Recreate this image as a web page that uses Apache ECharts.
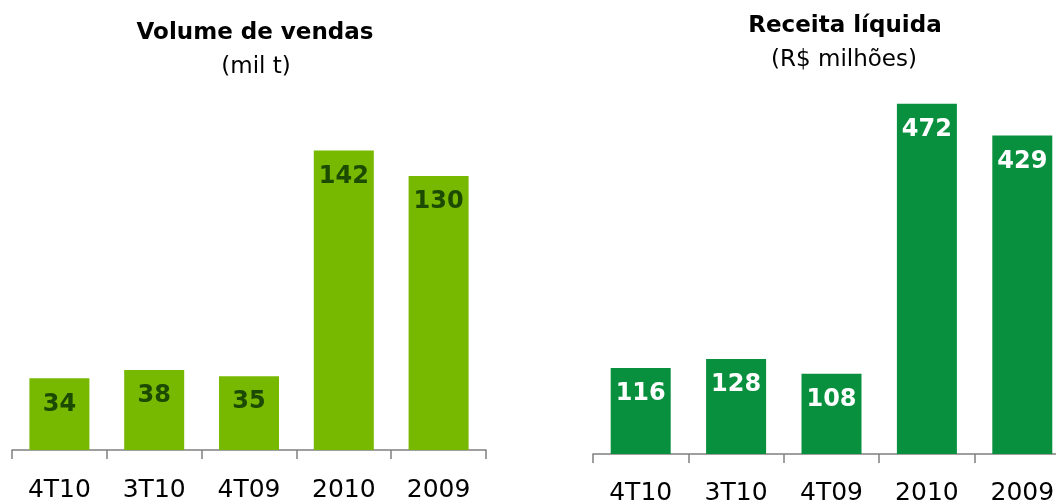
<!DOCTYPE html>
<html>
<head>
<meta charset="utf-8">
<script src="https://cdn.jsdelivr.net/npm/echarts@6/dist/echarts.min.js"></script>
<style>
  html, body { margin: 0; padding: 0; background: #fff; }
  #chart { width: 1056px; height: 500px; }
</style>
</head>
<body>
<div id="chart"></div>
<script>
const categories = ['4T10', '3T10', '4T09', '2010', '2009'];
const volumeValues = [34, 38, 35, 142, 130];
const receitaValues = [116, 128, 108, 472, 429];

const font = '"DejaVu Sans", Verdana, sans-serif';

function makeAxis(gridIndex, margin) {
    return {
        type: 'category',
        gridIndex: gridIndex,
        data: categories,
        axisLine: { lineStyle: { color: '#808080', width: 1.5 } },
        axisTick: { show: true, length: 9, lineStyle: { color: '#808080', width: 1.5 } },
        axisLabel: { color: '#000', fontSize: 25, fontFamily: font, margin: margin }
    };
}

const chart = echarts.init(document.getElementById('chart'));
chart.setOption({
    animation: false,
    title: [
        { text: 'Volume de vendas', left: 250, top: 17, textAlign: 'center',
          textStyle: { fontFamily: font, fontSize: 23, fontWeight: 'bold', color: '#000' } },
        { text: '(mil t)', left: 251, top: 51, textAlign: 'center',
          textStyle: { fontFamily: font, fontSize: 23, fontWeight: 'normal', color: '#000' } },
        { text: 'Receita líquida', left: 840, top: 10, textAlign: 'center',
          textStyle: { fontFamily: font, fontSize: 23, fontWeight: 'bold', color: '#000' } },
        { text: '(R$ milhões)', left: 839, top: 44, textAlign: 'center',
          textStyle: { fontFamily: font, fontSize: 23, fontWeight: 'normal', color: '#000' } }
    ],
    // the right axis runs past the window edge in the reference, so no outer-bounds squeezing
    grid: [
        { left: 12, width: 474, top: 100, bottom: 50, outerBoundsMode: 'none' },
        { left: 593, width: 477, top: 100, bottom: 46, outerBoundsMode: 'none' }
    ],
    xAxis: [makeAxis(0, 28), makeAxis(1, 27)],
    yAxis: [
        { type: 'value', gridIndex: 0, min: 0, max: 166, show: false, splitLine: { show: false } },
        { type: 'value', gridIndex: 1, min: 0, max: 477, show: false, splitLine: { show: false } }
    ],
    series: [
        {
            type: 'bar', xAxisIndex: 0, yAxisIndex: 0,
            data: volumeValues, barWidth: 60,
            itemStyle: { color: '#77B800' },
            label: { show: true, position: 'insideTop', distance: 14,
                     color: '#1B4A00', fontSize: 24, fontWeight: 'bold', fontFamily: font }
        },
        {
            type: 'bar', xAxisIndex: 1, yAxisIndex: 1,
            data: receitaValues, barWidth: 60,
            itemStyle: { color: '#08903E' },
            label: { show: true, position: 'insideTop', distance: 14,
                     color: '#fff', fontSize: 24, fontWeight: 'bold', fontFamily: font }
        }
    ]
});
</script>
</body>
</html>
